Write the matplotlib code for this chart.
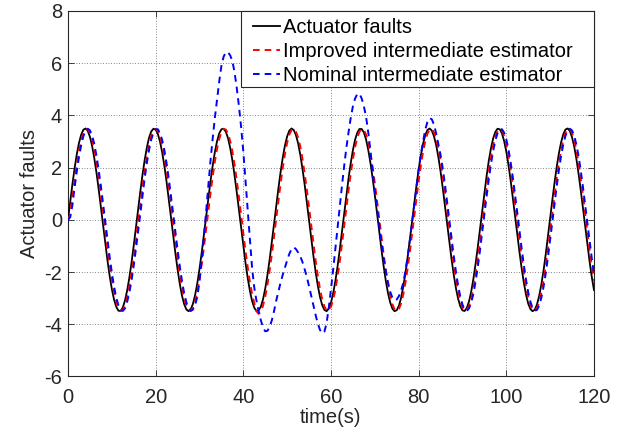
import numpy as np
import matplotlib
matplotlib.use("Agg")
import matplotlib.pyplot as plt
from matplotlib.patches import Rectangle

# sampling times (s), every 0.5 s
time_s = np.arange(0, 120.5, 0.5)

actuator_faults = [
    0.00, 0.69, 1.36, 1.97, 2.51, 2.94, 3.26, 3.45, 3.50, 3.41,
    3.18, 2.83, 2.36, 1.80, 1.17, 0.49, -0.20, -0.89, -1.55, -2.14,
    -2.65, -3.05, -3.33, -3.48, -3.49, -3.36, -3.09, -2.70, -2.21, -1.63,
    -0.98, -0.29, 0.41, 1.09, 1.73, 2.30, 2.78, 3.15, 3.39, 3.49,
    3.46, 3.29, 2.99, 2.57, 2.05, 1.44, 0.78, 0.09, -0.61, -1.28,
    -1.90, -2.45, -2.90, -3.23, -3.43, -3.50, -3.43, -3.22, -2.88, -2.43,
    -1.88, -1.26, -0.58, 0.12, 0.81, 1.47, 2.07, 2.59, 3.01, 3.31,
    3.47, 3.49, 3.38, 3.13, 2.76, 2.28, 1.70, 1.06, 0.38, -0.32,
    -1.01, -1.65, -2.23, -2.72, -3.11, -3.37, -3.49, -3.47, -3.32, -3.04,
    -2.63, -2.12, -1.52, -0.86, -0.17, 0.53, 1.20, 1.83, 2.39, 2.85,
    3.20, 3.42, 3.50, 3.44, 3.25, 2.93, 2.49, 1.95, 1.34, 0.67,
    -0.03, -0.72, -1.39, -2.00, -2.53, -2.96, -3.27, -3.45, -3.50, -3.40,
    -3.17, -2.81, -2.34, -1.78, -1.14, -0.46, 0.24, 0.93, 1.58, 2.17,
    2.67, 3.07, 3.34, 3.48, 3.48, 3.35, 3.08, 2.68, 2.18, 1.60,
    0.95, 0.26, -0.44, -1.12, -1.76, -2.33, -2.80, -3.16, -3.40, -3.50,
    -3.46, -3.29, -2.98, -2.55, -2.02, -1.41, -0.75, -0.06, 0.64, 1.31,
    1.93, 2.47, 2.91, 3.24, 3.44, 3.50, 3.42, 3.20, 2.86, 2.40,
    1.85, 1.22, 0.55, -0.15, -0.84, -1.50, -2.10, -2.61, -3.02, -3.31,
    -3.47, -3.49, -3.37, -3.12, -2.74, -2.25, -1.67, -1.03, -0.35, 0.35,
    1.04, 1.68, 2.26, 2.74, 3.12, 3.37, 3.49, 3.47, 3.31, 3.02,
    2.61, 2.09, 1.49, 0.83, 0.14, -0.56, -1.23, -1.86, -2.41, -2.87,
    -3.21, -3.42, -3.50, -3.44, -3.24, -2.91, -2.47, -1.93, -1.31, -0.64,
    0.06, 0.76, 1.42, 2.03, 2.55, 2.97, 3.28, 3.46, 3.50, 3.40,
    3.16, 2.80, 2.32, 1.75, 1.11, 0.43, -0.27, -0.95, -1.60, -2.19,
    -2.69]

improved_estimator = [
    0.00, 0.21, 0.89, 1.54, 2.13, 2.64, 3.04, 3.32, 3.47, 3.47,
    3.34, 3.08, 2.69, 2.19, 1.61, 0.97, 0.28, -0.41, -1.09, -1.73,
    -2.29, -2.77, -3.13, -3.38, -3.48, -3.45, -3.28, -2.97, -2.55, -2.04,
    -1.44, -0.77, -0.08, 0.61, 1.28, 1.90, 2.44, 2.89, 3.22, 3.42,
    3.48, 3.41, 3.20, 2.86, 2.41, 1.87, 1.24, 0.57, -0.12, -0.81,
    -1.47, -2.07, -2.59, -3.00, -3.29, -3.45, -3.48, -3.37, -3.12, -2.75,
    -2.27, -1.69, -1.06, -0.37, 0.33, 1.01, 1.65, 2.23, 2.72, 3.10,
    3.36, 3.48, 3.46, 3.31, 3.02, 2.62, 2.11, 1.51, 0.86, 0.17,
    -0.53, -1.20, -1.82, -2.38, -2.84, -3.19, -3.50, -3.60, -3.52, -3.28,
    -2.94, -2.48, -1.94, -1.32, -0.65, 0.04, 0.73, 1.39, 2.00, 2.53,
    2.96, 3.27, 3.44, 3.48, 3.38, 3.15, 2.80, 2.33, 1.77, 1.14,
    0.46, -0.24, -0.92, -1.57, -2.16, -2.66, -3.05, -3.32, -3.47, -3.47,
    -3.33, -3.06, -2.67, -2.17, -1.59, -0.94, -0.25, 0.45, 1.13, 1.76,
    2.32, 2.79, 3.15, 3.38, 3.48, 3.44, 3.27, 2.96, 2.53, 2.01,
    1.41, 0.74, 0.05, -0.64, -1.31, -1.93, -2.47, -2.91, -3.23, -3.43,
    -3.49, -3.41, -3.20, -2.85, -2.39, -1.84, -1.21, -0.54, 0.15, 0.84,
    1.50, 2.09, 2.60, 3.01, 3.30, 3.46, 3.48, 3.35, 3.10, 2.72,
    2.24, 1.66, 1.02, 0.34, -0.36, -1.04, -1.68, -2.25, -2.73, -3.11,
    -3.36, -3.48, -3.45, -3.30, -3.01, -2.59, -2.08, -1.48, -0.83, -0.14,
    0.56, 1.23, 1.85, 2.40, 2.85, 3.20, 3.41, 3.48, 3.42, 3.22,
    2.90, 2.45, 1.91, 1.29, 0.62, -0.07, -0.76, -1.42, -2.03, -2.55,
    -2.97, -3.27, -3.44, -3.48, -3.38, -3.14, -2.78, -2.31, -1.74, -1.11,
    -0.43, 0.27, 0.96, 1.60, 2.19, 2.68, 3.06, 3.33, 3.47, 3.47,
    3.33, 3.05, 2.66, 2.15, 1.56, 0.91, 0.22, -0.47, -1.15, -1.78,
    -2.34]

nominal_estimator = [
    0.00, 0.10, 0.55, 1.23, 1.85, 2.40, 2.85, 3.20, 3.41, 3.49,
    3.43, 3.23, 2.90, 2.45, 1.91, 1.30, 0.63, -0.06, -0.75, -1.42,
    -2.02, -2.55, -2.97, -3.27, -3.45, -3.49, -3.39, -3.14, -2.78, -2.31,
    -1.75, -1.11, -0.43, 0.27, 0.95, 1.60, 2.19, 2.68, 3.08, 3.34,
    3.47, 3.47, 3.32, 3.05, 2.65, 2.15, 1.56, 0.91, 0.23, -0.47,
    -1.15, -1.78, -2.34, -2.81, -3.16, -3.39, -3.49, -3.44, -3.26, -2.95,
    -2.35, -1.55, -0.65, 0.30, 1.30, 2.25, 3.10, 3.90, 4.60, 5.30,
    5.90, 6.25, 6.42, 6.42, 6.30, 6.08, 5.65, 5.05, 4.35, 3.55,
    2.60, 1.50, 0.40, -0.75, -1.85, -2.60, -3.10, -3.50, -3.85, -4.12,
    -4.27, -4.25, -4.10, -3.85, -3.50, -3.10, -2.75, -2.40, -2.10, -1.82,
    -1.55, -1.30, -1.12, -1.05, -1.12, -1.25, -1.40, -1.62, -1.90, -2.20,
    -2.55, -2.92, -3.30, -3.65, -3.98, -4.22, -4.35, -4.28, -3.95, -3.35,
    -2.65, -1.90, -1.10, -0.30, 0.50, 1.30, 2.05, 2.75, 3.35, 3.90,
    4.35, 4.65, 4.82, 4.83, 4.65, 4.35, 3.95, 3.35, 2.65, 1.85,
    1.10, 0.45, -0.20, -0.85, -1.45, -1.95, -2.40, -2.75, -2.98, -3.08,
    -3.05, -2.92, -2.70, -2.40, -1.95, -1.40, -0.78, -0.10, 0.60, 1.28,
    1.92, 2.50, 3.00, 3.45, 3.75, 3.90, 3.85, 3.65, 3.30, 2.90,
    2.49, 1.96, 1.35, 0.68, -0.01, -0.70, -1.37, -1.98, -2.51, -2.94,
    -3.25, -3.44, -3.49, -3.39, -3.17, -2.82, -2.35, -1.79, -1.16, -0.49,
    0.21, 0.90, 1.55, 2.14, 2.64, 3.04, 3.32, 3.47, 3.47, 3.34,
    3.08, 2.69, 2.19, 1.61, 0.96, 0.28, -0.42, -1.10, -1.73, -2.30,
    -2.78, -3.14, -3.38, -3.48, -3.45, -3.28, -2.98, -2.56, -2.04, -1.43,
    -0.77, -0.08, 0.62, 1.29, 1.91, 2.45, 2.89, 3.22, 3.42, 3.49,
    3.42, 3.21, 2.87, 2.42, 1.86, 1.24, 0.57, -0.13, -0.81, -1.47,
    -2.07]

series_labels = ["Actuator faults", "Improved intermediate estimator",
                 "Nominal intermediate estimator"]
x_ticks = [0, 20, 40, 60, 80, 100, 120]
y_ticks = [-6, -4, -2, 0, 2, 4, 6, 8]

plt.rcParams['font.family'] = ['Liberation Sans', 'DejaVu Sans']
plt.rcParams['axes.unicode_minus'] = False
FS = 14.5
TXT = '#262626'

fig = plt.figure(figsize=(6.35, 4.36), dpi=100)
ax = fig.add_axes([0.1071, 0.1365, 0.9354 - 0.1071, 0.9748 - 0.1365])

ax.plot(time_s, actuator_faults, color='k', lw=1.3, label=series_labels[0],
        zorder=3, solid_joinstyle='round')
ax.plot(time_s, improved_estimator, color='#ff0000', lw=1.4,
        linestyle=(0, (3.4, 2.6)), label=series_labels[1], zorder=4)
ax.plot(time_s, nominal_estimator, color='#0000ff', lw=1.4,
        linestyle=(0, (3.4, 2.6)), label=series_labels[2], zorder=5)

ax.set_xlim(0, 120)
ax.set_ylim(-6, 8)
ax.set_xticks(x_ticks)
ax.set_yticks(y_ticks)
ax.tick_params(direction='in', length=4, width=0.6, top=True, right=True,
               labelsize=FS, colors=TXT, labelcolor=TXT)
ax.tick_params(axis='x', pad=8.5)
ax.tick_params(axis='y', pad=4.3)
ax.grid(True, color='#333333', linestyle=(0, (1, 2.2)), linewidth=0.6, alpha=0.8)
for s in ax.spines.values():
    s.set_linewidth(0.8)
    s.set_color(TXT)

ax.set_xlabel("time(s)", fontsize=FS, labelpad=0.5, color=TXT)
ax.set_ylabel("Actuator faults", fontsize=FS, labelpad=3.6, color=TXT)

# legend box (drawn as a frame) and frameless legend entries inside it
box_left = (241 - 68) / 526.0
box_bottom = (376.5 - 87) / 365.5
frame = Rectangle((box_left, box_bottom), 1.0 - box_left, 1.0 - box_bottom,
                  transform=ax.transAxes, facecolor='white', edgecolor=TXT,
                  linewidth=0.8, zorder=9, clip_on=False)
ax.add_patch(frame)
leg = ax.legend(loc='upper left', bbox_to_anchor=(box_left + 5 / 526.0, 1.0),
                fontsize=FS, frameon=False, borderaxespad=0,
                handlelength=1.34, handletextpad=0.15,
                labelspacing=0.25, borderpad=0.35)
for t in leg.get_texts():
    t.set_color('black')
leg.set_zorder(10)

fig.savefig("out.png", dpi=100)
